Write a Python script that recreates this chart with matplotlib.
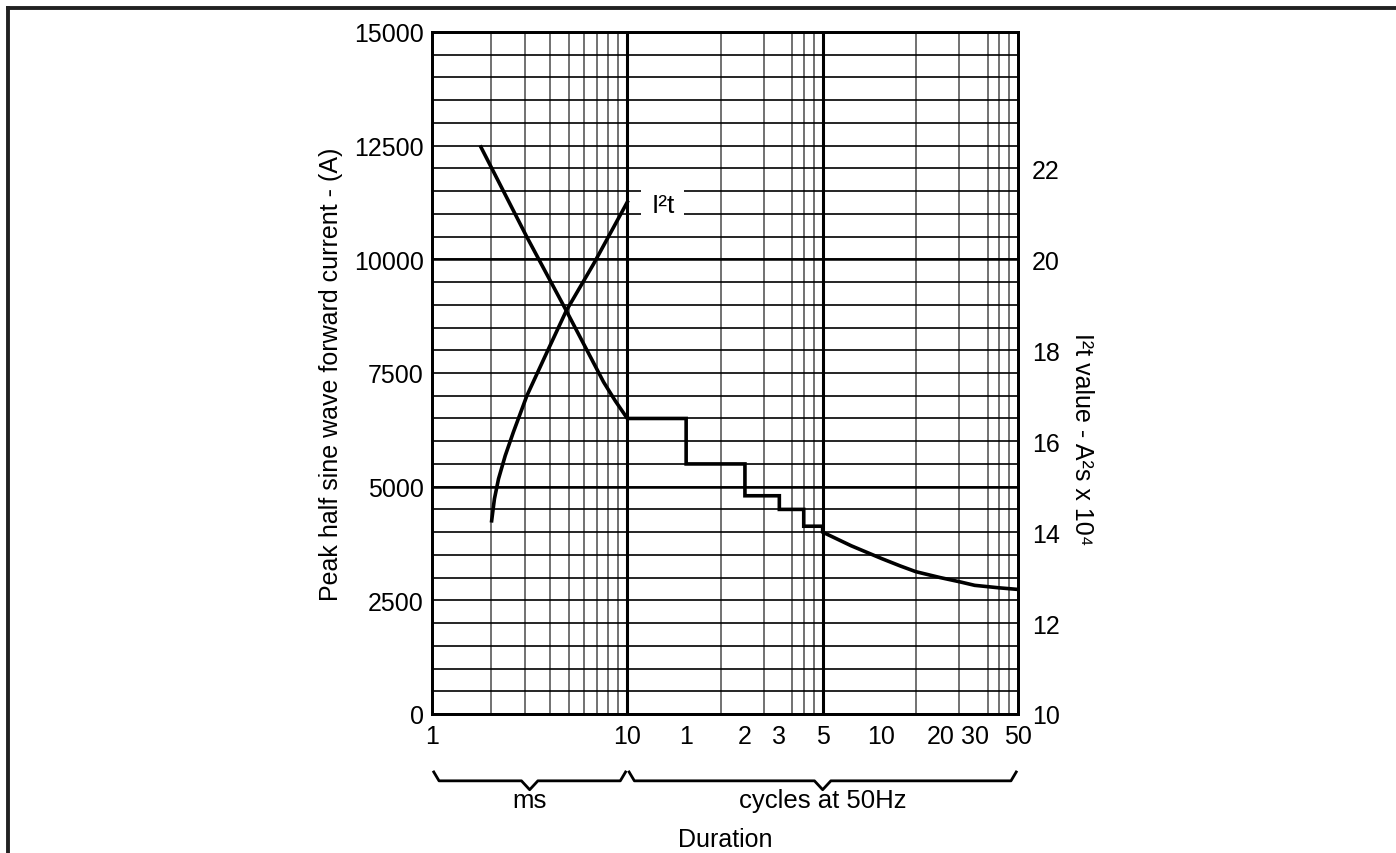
import numpy as np
import matplotlib
matplotlib.use('Agg')
import matplotlib.pyplot as plt
from matplotlib.lines import Line2D
from matplotlib.ticker import MultipleLocator, FixedLocator, NullFormatter

plt.rcParams['font.family'] = ['Liberation Sans', 'DejaVu Sans']

# surge current, half sine, ms region
surge_ms = [1.78, 3.06, 4.87, 7.56, 8.68, 10.0]
surge_a = [12470, 10490, 8870, 7300, 6885, 6500]

# stepped part (cycle boundaries in ms)
step_edges_ms = [10, 20, 40, 60, 80, 100]
step_a = [6500, 5500, 4800, 4500, 4130]

# tail beyond 5 cycles
tail_ms = [100, 140, 200, 250, 300, 400, 500, 600, 800, 1000]
tail_a = [4000, 3700, 3420, 3255, 3130, 3000, 2910, 2830, 2775, 2740]

# I2t curve (x 10^4 A2s)
i2t_ms = [2.02, 2.087, 2.19, 2.37, 2.61, 3.06, 3.87, 4.87, 6.72, 10.0]
i2t_val = [14.25, 14.73, 15.17, 15.68, 16.2, 17.0, 17.95, 18.87, 19.9, 21.26]

xtick_ms = [1, 10, 20, 40, 60, 100, 200, 400, 600, 1000]
xtick_lbl = ['1', '10', '1', '2', '3', '5', '10', '20', '30', '50']

W, H = 1396, 854
fig = plt.figure(figsize=(W / 100, H / 100), dpi=100)
ax = fig.add_axes([432 / W, 1 - 715 / H, (1018 - 432) / W, (715 - 33) / H])

ax.set_xscale('log')
ax.set_xlim(1, 1000)
ax.set_ylim(0, 15000)

# grid
ax.xaxis.set_minor_locator(FixedLocator(
    [m * d for d in (1, 10, 100) for m in range(2, 10)]))
ax.xaxis.set_minor_formatter(NullFormatter())
ax.yaxis.set_major_locator(MultipleLocator(2500))
ax.yaxis.set_minor_locator(MultipleLocator(500))
ax.grid(True, which='minor', axis='x', color='#666666', lw=1.3)
ax.grid(True, which='minor', axis='y', color='black', lw=1.2)
ax.grid(True, which='major', axis='y', color='black', lw=1.2)
for v in (10, 100):
    ax.axvline(v, color='black', lw=2.2)
for v in (5000, 10000):
    ax.axhline(v, color='black', lw=1.8)

ax.set_xticks(xtick_ms)
ax.set_xticklabels(xtick_lbl)
ax.tick_params(which='both', length=0, labelsize=18)
ax.tick_params(axis='x', pad=7)
ax.tick_params(axis='y', pad=6)
for s in ax.spines.values():
    s.set_linewidth(2)

# surge current curve + steps + tail
step_x = np.repeat(step_edges_ms, 2)[1:-1]
step_y = np.repeat(step_a, 2)
xs = np.concatenate([surge_ms, step_x, tail_ms])
ys = np.concatenate([surge_a, step_y, tail_a])
ax.plot(xs, ys, color='black', lw=2.6, solid_joinstyle='miter', zorder=5)

ax.set_ylabel('Peak half sine wave forward current - (A)', fontsize=18, labelpad=8)

# right axis for I2t
ax2 = ax.twinx()
ax2.set_ylim(10, 25)
ax2.set_yticks([10, 12, 14, 16, 18, 20, 22])
ax2.tick_params(length=0, labelsize=18, pad=10)
for s in ax2.spines.values():
    s.set_linewidth(2)
ax2.plot(i2t_ms, i2t_val, color='black', lw=2.6, zorder=5)
ax2.set_ylabel('I²t value - A²s x 10⁴', fontsize=18, rotation=-90, va='center')
ax2.yaxis.set_label_coords(1.11, 0.405)

ax.text(15.2, 11200, 'I²t', fontsize=19, ha='center', va='center', zorder=6,
        bbox=dict(facecolor='white', edgecolor='none', pad=7))


# braces under the axis
def brace(x0, x1, y_end=-0.085, y_flat=-0.098, y_tip=-0.111):
    f0, f1 = np.log10(x0) / 3, np.log10(x1) / 3
    fm = (f0 + f1) / 2
    c, d = 0.012, 0.014
    px = [f0 + 0.003, f0 + c, fm - d, fm, fm + d, f1 - c, f1 - 0.003]
    py = [y_end, y_flat, y_flat, y_tip, y_flat, y_flat, y_end]
    ax.plot(px, py, transform=ax.transAxes, color='black', lw=2,
            clip_on=False, solid_joinstyle='round')
    return fm


m1 = brace(1, 10)
m2 = brace(10, 1000)
ax.text(m1, -0.126, 'ms', transform=ax.transAxes, ha='center', va='center', fontsize=18.5)
ax.text(m2, -0.126, 'cycles at 50Hz', transform=ax.transAxes, ha='center', va='center', fontsize=18.5)
ax.text(0.5, -0.183, 'Duration', transform=ax.transAxes, ha='center', va='center', fontsize=18)

# page frame (top and left edges)
fig.add_artist(Line2D([8 / W, 1], [1 - 9 / H, 1 - 9 / H], color='#222222', lw=2.8))
fig.add_artist(Line2D([8 / W, 8 / W], [0, 1 - 9 / H], color='#222222', lw=2.8))

fig.savefig('out.png', dpi=100)
